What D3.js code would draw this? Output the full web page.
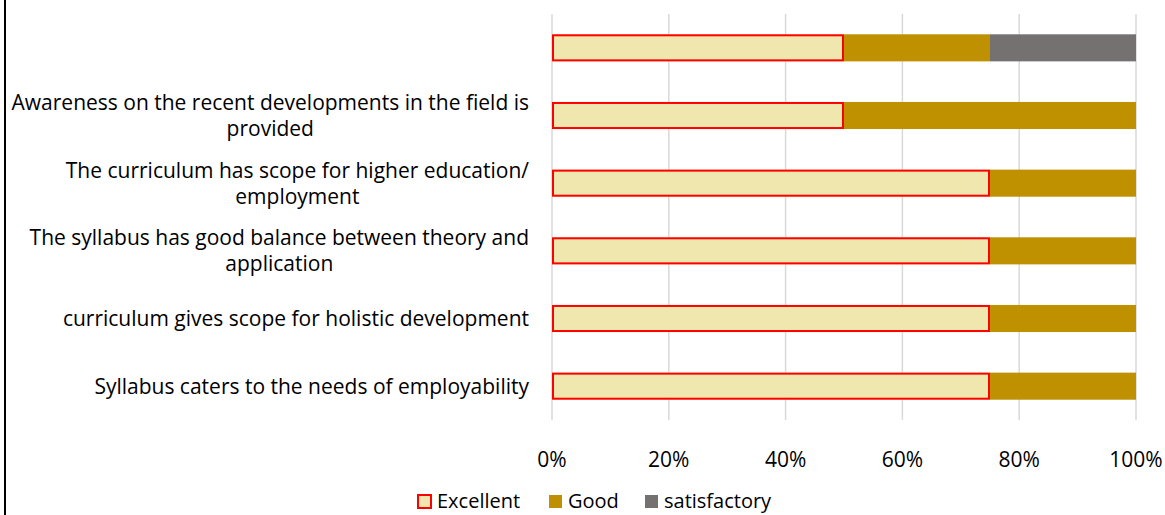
<!DOCTYPE html>
<html lang="en">
<head>
<meta charset="UTF-8">
<title>Curriculum feedback</title>
<script src="https://cdn.jsdelivr.net/npm/d3@7"></script>
<style>
  body { margin: 0; background: #fff; }
  svg { display: block; font-family: "Open Sans", sans-serif; }
</style>
</head>
<body>
<div id="chart"></div>
<script>
// categories from top to bottom, each label split into its wrapped lines
const categories = [
  [""],
  ["Awareness on the recent developments in the field is", "provided"],
  ["The curriculum has scope for higher education/", "employment"],
  ["The syllabus has good balance between theory and", "application"],
  ["curriculum gives scope for holistic development"],
  ["Syllabus caters to the needs of employability"]
];
const seriesNames = ["Excellent", "Good", "satisfactory"];
const excellent = [0.50, 0.50, 0.75, 0.75, 0.75, 0.75];
const good = [0.25, 0.50, 0.25, 0.25, 0.25, 0.25];
const satisfactory = [0.25, 0, 0, 0, 0, 0];
const xTicks = [0, 0.2, 0.4, 0.6, 0.8, 1];

const colors = { Excellent: "#EFE7AE", Good: "#BF9000", satisfactory: "#767171" };

const width = 1165, height = 515;
const plot = { left: 552, right: 1136, top: 14, bottom: 420 };

const svg = d3.select("#chart").append("svg")
  .attr("width", width).attr("height", height);

// chart frame (only left edge visible)
svg.append("line")
  .attr("x1", 5).attr("x2", 5).attr("y1", 0).attr("y2", height)
  .attr("stroke", "#000").attr("stroke-width", 2);

const rows = categories.map((c, i) => ({
  idx: i, label: c,
  Excellent: excellent[i], Good: good[i], satisfactory: satisfactory[i]
}));

const x = d3.scaleLinear().domain([0, 1]).range([plot.left, plot.right]);
const y = d3.scaleBand().domain(d3.range(categories.length))
  .range([plot.top, plot.bottom]).paddingInner(0.6).paddingOuter(0.3);

// gridlines
svg.append("g").selectAll("line").data(xTicks).join("line")
  .attr("x1", d => x(d)).attr("x2", d => x(d))
  .attr("y1", plot.top).attr("y2", plot.bottom)
  .attr("stroke", "#D9D9D9").attr("stroke-width", 1.5);

// stacked bars
const stacked = d3.stack().keys(seriesNames)(rows);
const layers = svg.append("g").selectAll("g").data(stacked).join("g")
  .attr("fill", d => colors[d.key]);
layers.selectAll("rect").data(d => d.filter(s => s[1] - s[0] > 0).map(s => ({ s, key: d.key })))
  .join("rect")
  .attr("x", d => x(d.s[0]))
  .attr("width", d => x(d.s[1]) - x(d.s[0]))
  .attr("y", d => y(d.s.data.idx))
  .attr("height", y.bandwidth());

// red outline on Excellent segments drawn on top
svg.append("g").selectAll("rect").data(stacked[0]).join("rect")
  .attr("x", d => x(d[0]) + 1)
  .attr("width", d => x(d[1]) - x(d[0]) - 2)
  .attr("y", d => y(d.data.idx) + 1)
  .attr("height", y.bandwidth() - 2)
  .attr("fill", "none").attr("stroke", "#FF0000").attr("stroke-width", 2);

// category labels: block right-aligned, lines centred within block
const fontSize = 21, lineH = 26;
const labelRight = 529;
const labelG = svg.append("g").attr("font-size", fontSize).attr("fill", "#000");
rows.forEach(r => {
  const cy = y(r.idx) + y.bandwidth() / 2;
  const g = labelG.append("g");
  const texts = r.label.map((line, j) => g.append("text")
    .attr("y", cy + (j - (r.label.length - 1) / 2) * lineH)
    .attr("dy", "0.35em")
    .attr("text-anchor", "middle")
    .text(line));
  const maxW = d3.max(texts, t => t.node().getComputedTextLength()) || 0;
  texts.forEach(t => t.attr("x", labelRight - maxW / 2));
});

// x axis labels
svg.append("g").attr("font-size", fontSize).selectAll("text").data(xTicks).join("text")
  .attr("x", d => x(d)).attr("y", 460).attr("dy", "0.35em")
  .attr("text-anchor", "middle")
  .text(d => d3.format(".0%")(d));

// legend
const legendX = [418, 549, 645];
const legend = svg.append("g").selectAll("g").data(seriesNames).join("g")
  .attr("transform", (d, i) => `translate(${legendX[i]},501)`);
legend.append("rect")
  .attr("x", 0).attr("y", -6).attr("width", 13).attr("height", 13)
  .attr("fill", d => colors[d])
  .attr("stroke", d => d === "Excellent" ? "#FF0000" : "none")
  .attr("stroke-width", 2);
legend.append("text")
  .attr("x", 19).attr("y", 0).attr("dy", "0.35em")
  .attr("font-size", 20)
  .text(d => d);
</script>
</body>
</html>
